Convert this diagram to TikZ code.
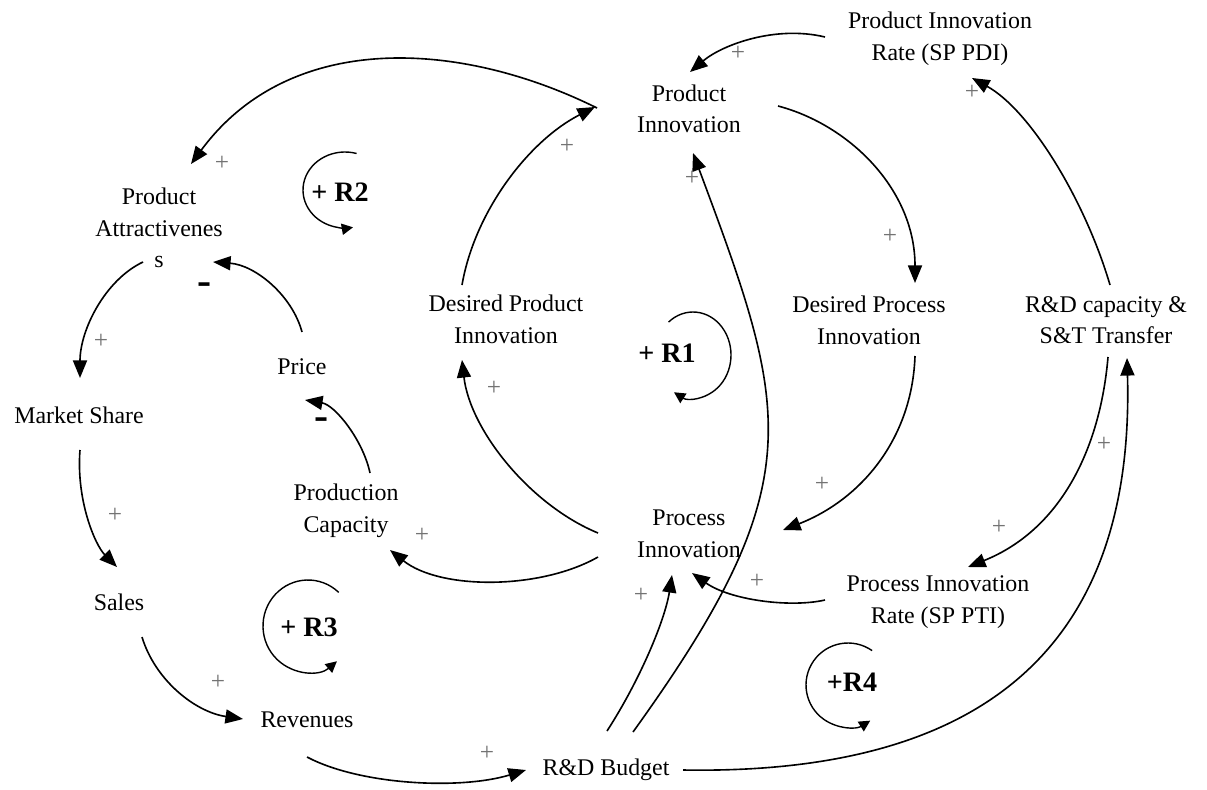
\documentclass[tikz,border=0pt]{standalone}
\usepackage{fontspec}
\setmainfont{Liberation Serif}
\usetikzlibrary{arrows.meta}
\begin{document}
\begin{tikzpicture}[x=0.025cm,y=-0.025cm,
  var/.style={align=center, inner sep=1pt, font=\fontsize{17}{22.5}\selectfont},
  link/.style={line width=1.15pt, -{Triangle[length=12.5pt,width=10pt]}},
  pol/.style={text=black!55, font=\fontsize{18}{18}\selectfont, inner sep=0pt},
  neg/.style={font=\fontsize{30}{30}\selectfont\bfseries, inner sep=0pt},
  loopline/.style={line width=1pt, -{Triangle[length=8pt,width=8pt]}},
  looplabel/.style={font=\fontsize{20}{20}\selectfont\bfseries, inner sep=0pt}]

\useasboundingbox (0,0) rectangle (1207,789);

% variables
\node[var] (PIR)   at (940,39)  {Product Innovation\\Rate (SP PDI)};
\node[var] (PI)    at (689,109) {Product\\Innovation};
\node[var] (PA)    at (159,228) {Product\\Attractivenes\\s};
\node[var] (DPdI)  at (506,319) {Desired Product\\Innovation};
\node[var] (DPcI)  at (869,320) {Desired Process\\Innovation};
\node[var] (RDC)   at (1106,320) {R\&D capacity \&\\S\&T Transfer};
\node[var] (Price) at (302,367) {Price};
\node[var] (MS)    at (79,415)  {Market Share};
\node[var] (PC)    at (346,511) {Production\\Capacity};
\node[var] (ProcI) at (689,534) {Process\\Innovation};
\node[var] (Sales) at (119,602) {Sales};
\node[var] (Rev)   at (307,720) {Revenues};
\node[var] (RDB)   at (606,770) {R\&D Budget};
\node[var] (PTI)   at (938,602) {Process Innovation\\Rate (SP PTI)};

% causal links
\draw[link] ([shift={(-115,-2)}]PIR.center) .. controls (775,25) and (722,45) .. ([shift={(1,-37)}]PI.center);
\draw[link] ([shift={(-92,-1)}]PI.center) .. controls (460,40) and (290,30) .. ([shift={(32,-64)}]PA.center);
\draw[link] ([shift={(-44,-34)}]DPdI.center) .. controls (475,210) and (530,140) .. ([shift={(-94,-2)}]PI.center);
\draw[link] ([shift={(27,-38)}]RDB.center) .. controls (813,482) and (790,413) .. ([shift={(4,44)}]PI.center);
\draw[link] ([shift={(89,-3)}]PI.center) .. controls (850,125) and (915,190) .. ([shift={(46,-37)}]DPcI.center);
\draw[link] ([shift={(4,-35)}]RDC.center) .. controls (1085,200) and (1030,110) .. ([shift={(32,39)}]PIR.center);
\draw[link] ([shift={(46,36)}]DPcI.center) .. controls (912,440) and (860,500) .. ([shift={(94,-4)}]ProcI.center);
\draw[link] ([shift={(2,37)}]RDC.center) .. controls (1100,450) and (1060,530) .. ([shift={(30,-35)}]PTI.center);
\draw[link] ([shift={(77,0)}]RDB.center) .. controls (980,775) and (1135,650) .. ([shift={(21,38)}]RDC.center);
\draw[link] ([shift={(-113,-2)}]PTI.center) .. controls (790,608) and (730,600) .. ([shift={(3,39)}]ProcI.center);
\draw[link] ([shift={(1,-39)}]RDB.center) .. controls (640,680) and (665,620) .. ([shift={(-17,41)}]ProcI.center);
\draw[link] ([shift={(-91,-1)}]ProcI.center) .. controls (530,505) and (470,430) .. ([shift={(-44,41)}]DPdI.center);
\draw[link] ([shift={(-91,23)}]ProcI.center) .. controls (540,590) and (440,590) .. ([shift={(44,39)}]PC.center);
\draw[link] ([shift={(24,-38)}]PC.center) .. controls (363,440) and (335,405) .. ([shift={(3,33)}]Price.center);
\draw[link] ([shift={(0,-35)}]Price.center) .. controls (292,295) and (255,265) .. ([shift={(54,34)}]PA.center);
\draw[link] ([shift={(-16,34)}]PA.center) .. controls (105,280) and (80,330) .. ([shift={(1,-37)}]MS.center);
\draw[link] ([shift={(1,35)}]MS.center) .. controls (76,500) and (95,545) .. ([shift={(-2,-35)}]Sales.center);
\draw[link] ([shift={(23,35)}]Sales.center) .. controls (155,680) and (195,712) .. ([shift={(-64,-1)}]Rev.center);
\draw[link] ([shift={(0,37)}]Rev.center) .. controls (360,785) and (460,790) .. ([shift={(-80,0)}]RDB.center);

% link polarities
\node[pol] (p1)  at (738,53)  {+};
\node[pol] (p2)  at (222,163) {+};
\node[pol] (p3)  at (567,146) {+};
\node[pol] (p4)  at (692,178) {+};
\node[pol] (p5)  at (890,236) {+};
\node[pol] (p6)  at (972,92)  {+};
\node[pol] (p7)  at (822,484) {+};
\node[pol] (p8)  at (999,527) {+};
\node[pol] (p9)  at (1104,444) {+};
\node[pol] (p10) at (757,581) {+};
\node[pol] (p11) at (641,595) {+};
\node[pol] (p12) at (494,388) {+};
\node[pol] (p13) at (422,535) {+};
\node[neg] (m1)  at (322,424) {-};
\node[neg] (m2)  at (205,289) {-};
\node[pol] (p14) at (101,341) {+};
\node[pol] (p15) at (115,515) {+};
\node[pol] (p16) at (218,682) {+};
\node[pol] (p17) at (487,753) {+};

% reinforcing loop markers
\draw[loopline] (693,355) ++(230:38 and 43) arc[start angle=230, end angle=480, x radius=38, y radius=43];
\node[looplabel] (R1) at (667,353) {+ R1};
\draw[loopline] (345,190) ++(286:42 and 38) arc[start angle=286, end angle=79, x radius=42, y radius=38];
\node[looplabel] (R2) at (340,192) {+ R2};
\draw[loopline] (308,626) ++(313:45 and 46) arc[start angle=313, end angle=50, x radius=45, y radius=46];
\node[looplabel] (R3) at (309,627) {+ R3};
\draw[loopline] (848,685) ++(305:42 and 42) arc[start angle=305, end angle=58, x radius=42, y radius=42];
\node[looplabel] (R4) at (852,682) {+R4};
\end{tikzpicture}
\end{document}
